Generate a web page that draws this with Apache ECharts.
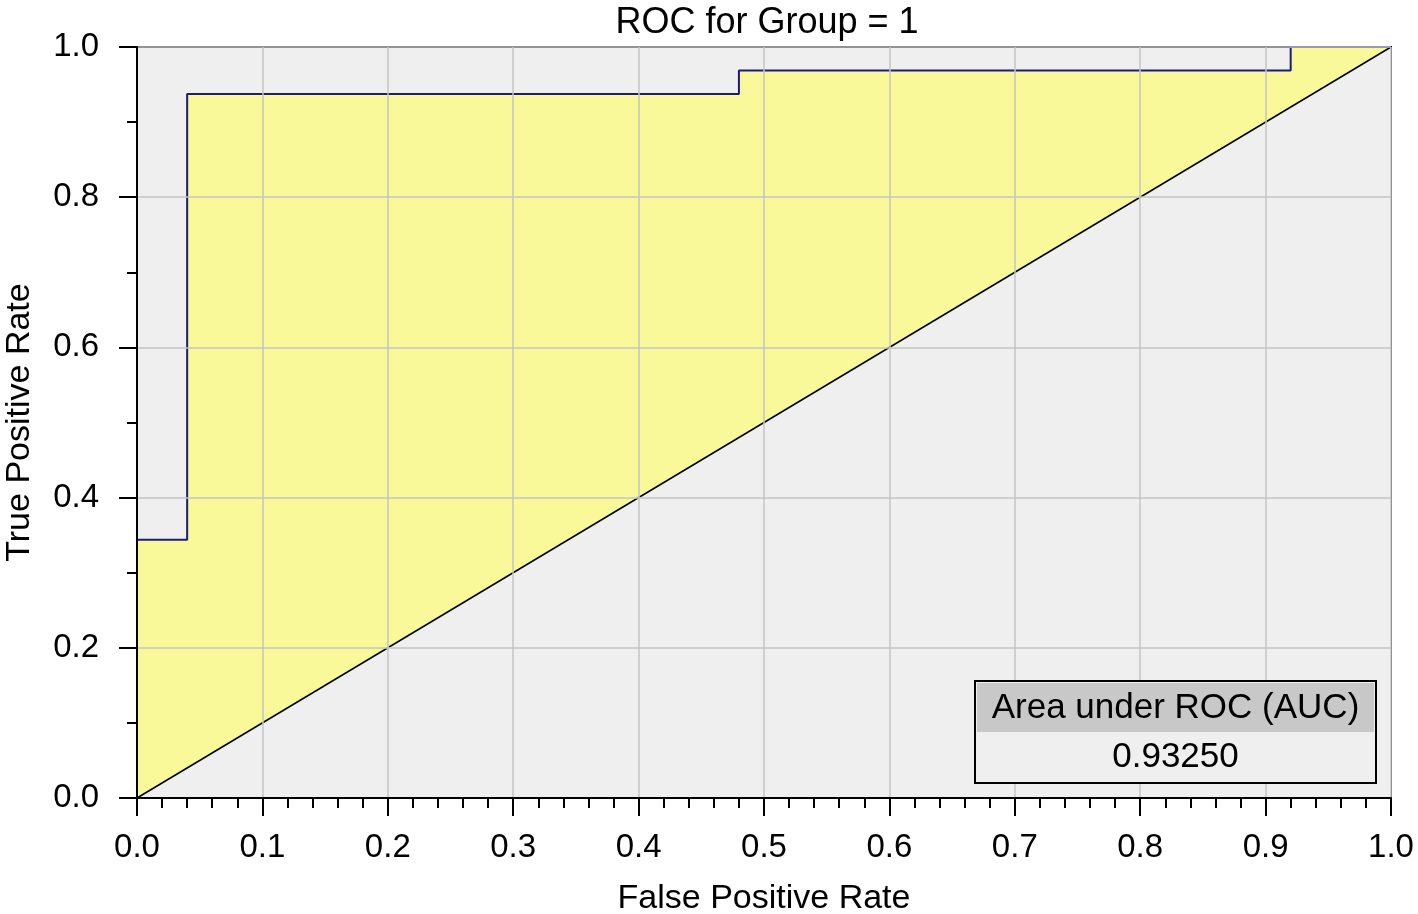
<!DOCTYPE html>
<html>
<head>
<meta charset="utf-8">
<title>ROC for Group = 1</title>
<script src="https://cdn.jsdelivr.net/npm/echarts@6/dist/echarts.min.js"></script>
<style>
  html, body { margin: 0; padding: 0; background: #fff; }
  #chart { width: 1418px; height: 914px; }
</style>
</head>
<body>
<div id="chart"></div>
<script>
// ROC curve (32 positives, 25 negatives)
const rocFpr = [0, 0, 0.04, 0.04, 0.48, 0.48, 0.92, 0.92, 1]
const rocTpr = [0, 0.34375, 0.34375, 0.9375, 0.9375, 0.96875, 0.96875, 1, 1]
// reference diagonal
const diagFpr = [0, 1]
const diagTpr = [0, 1]
const chartTitle = 'ROC for Group = 1'
const aucLabel = 'Area under ROC (AUC)'
const aucValue = '0.93250'

const font = 'Liberation Sans, Arial, sans-serif'
const bg = '#efefef'

const chart = echarts.init(document.getElementById('chart'))

// AUC box in the lower right corner
const box = { x: 975, y: 681, w: 401, h: 102 }

chart.setOption({
  animation: false,
  backgroundColor: '#fff',
  textStyle: { fontFamily: font },
  title: {
    text: chartTitle,
    left: 762,
    textAlign: 'center',
    top: 0,
    textStyle: { fontSize: 36, fontWeight: 'normal', color: '#000', fontFamily: font },
  },
  grid: {
    left: 137,
    right: 27,
    top: 47,
    bottom: 116,
    outerBoundsMode: 'none',
    show: true,
    backgroundColor: bg,
    borderColor: '#000',
    borderWidth: 2,
  },
  xAxis: {
    type: 'value',
    min: 0,
    max: 1,
    interval: 0.1,
    z: 3,
    name: 'False Positive Rate',
    nameLocation: 'middle',
    nameGap: 84,
    nameTextStyle: { fontSize: 34, color: '#000', fontFamily: font },
    axisLine: { lineStyle: { color: '#000', width: 2 } },
    axisTick: { length: 18, lineStyle: { color: '#000', width: 2 } },
    minorTick: { show: true, splitNumber: 5, length: 10, lineStyle: { color: '#000', width: 2 } },
    axisLabel: {
      fontSize: 33,
      color: '#000',
      margin: 33,
      formatter: v => v.toFixed(1),
    },
    splitLine: { show: true, lineStyle: { color: '#c4c4c4', width: 1.5 } },
  },
  yAxis: {
    type: 'value',
    min: 0,
    max: 1,
    interval: 0.2,
    z: 3,
    name: 'True Positive Rate',
    nameLocation: 'middle',
    nameGap: 100,
    nameTextStyle: { fontSize: 34, color: '#000', fontFamily: font },
    axisLine: { lineStyle: { color: '#000', width: 2 } },
    axisTick: { length: 18, lineStyle: { color: '#000', width: 2 } },
    minorTick: { show: true, splitNumber: 2, length: 10, lineStyle: { color: '#000', width: 2 } },
    axisLabel: {
      fontSize: 33,
      color: '#000',
      margin: 38,
      formatter: v => v.toFixed(1),
    },
    splitLine: { show: true, lineStyle: { color: '#c4c4c4', width: 1.5 } },
  },
  series: [
    {
      name: 'ROC',
      type: 'line',
      data: rocFpr.map((x, i) => [x, rocTpr[i]]),
      symbol: 'none',
      z: 2,
      lineStyle: { color: '#1c1c78', width: 2 },
      areaStyle: { color: '#f9f99a', opacity: 1 },
    },
    {
      name: 'Chance',
      type: 'line',
      data: diagFpr.map((x, i) => [x, diagTpr[i]]),
      symbol: 'none',
      z: 2,
      lineStyle: { color: '#000', width: 1.5 },
      areaStyle: { color: bg, opacity: 1 },
    },
  ],
  graphic: {
    elements: [
      {
        type: 'rect',
        z: 100,
        shape: { x: box.x, y: box.y, width: box.w, height: box.h },
        style: { fill: bg, stroke: '#000', lineWidth: 2 },
      },
      {
        type: 'rect',
        z: 101,
        shape: { x: box.x + 2, y: box.y + 2, width: box.w - 4, height: 49 },
        style: { fill: '#c8c8c8' },
      },
      {
        type: 'text',
        z: 102,
        x: box.x + box.w / 2,
        y: box.y + 27,
        style: {
          text: aucLabel,
          fontSize: 35,
          fontFamily: font,
          fill: '#000',
          align: 'center',
          verticalAlign: 'middle',
        },
      },
      {
        type: 'text',
        z: 102,
        x: box.x + box.w / 2,
        y: box.y + 76,
        style: {
          text: aucValue,
          fontSize: 35,
          fontFamily: font,
          fill: '#000',
          align: 'center',
          verticalAlign: 'middle',
        },
      },
    ],
  },
})
</script>
</body>
</html>
